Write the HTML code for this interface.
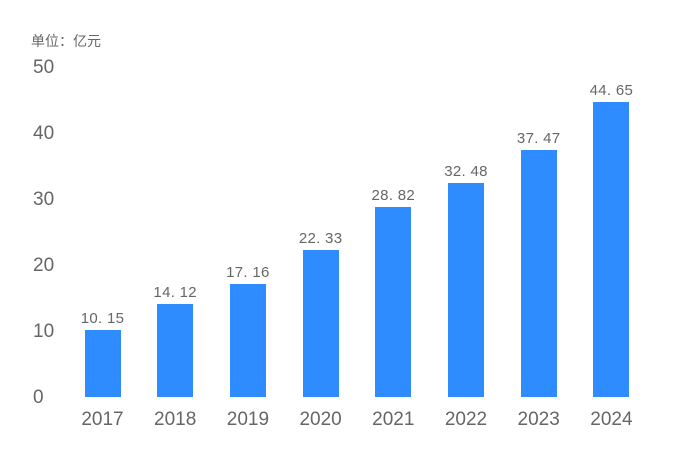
<!DOCTYPE html>
<html><head><meta charset="utf-8"><style>
html,body{margin:0;padding:0;background:#fff;}
body{width:677px;height:470px;position:relative;overflow:hidden;font-family:"Liberation Sans","Noto Sans CJK SC",sans-serif;color:#666;}
.t{position:absolute;white-space:nowrap;}
.bar{position:absolute;background:#2e8cff;width:36px;}
.yl{font-size:19px;width:40px;text-align:left;left:33px;}
.xl{font-size:19px;width:70px;text-align:center;}
.vl{font-size:15px;width:70px;text-align:center;letter-spacing:0.3px;}
</style></head><body>
<div class="t" style="left:31px;top:31px;font-size:14px;">单位：亿元</div>
<div id="c"></div>
<script>
var base=397,s=6.6;
var ys=[0,10,20,30,40,50],h='';
ys.forEach(function(v){h+='<div class="t yl" style="top:'+(base-v*s-10)+'px">'+v+'</div>';});
var d=[["2017",10.15],["2018",14.12],["2019",17.16],["2020",22.33],["2021",28.82],["2022",32.48],["2023",37.47],["2024",44.65]];
d.forEach(function(e,i){var cx=102.5+i*72.7,ht=e[1]*s;
h+='<div class="bar" style="left:'+(cx-18)+'px;top:'+(base-ht)+'px;height:'+ht+'px"></div>';
h+='<div class="t vl" style="left:'+(cx-35)+'px;top:'+(base-ht-20)+'px">'+e[1].toFixed(2).replace('.','. ')+'</div>';
h+='<div class="t xl" style="left:'+(cx-35)+'px;top:409px">'+e[0]+'</div>';});
document.getElementById('c').innerHTML=h;
</script>
</body></html>
